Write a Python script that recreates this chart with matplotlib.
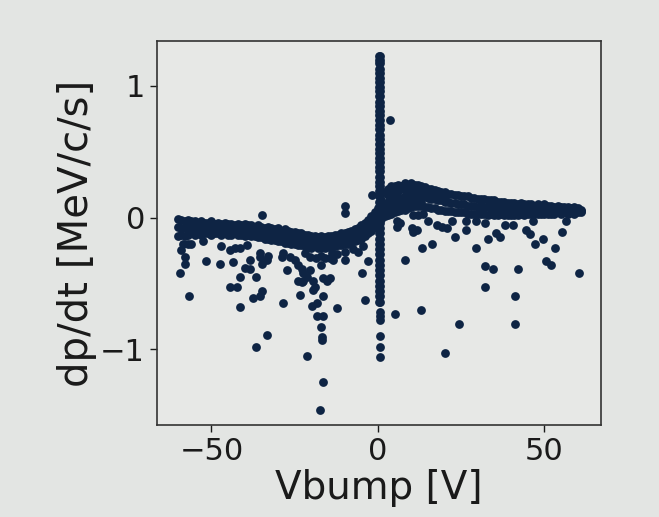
import matplotlib.pyplot as plt

# Main band: readings at each volt from -60 to 61 (upper edge, middle, lower edge)
band_v = list(range(-60, 62))
band_top = [-0.01, -0.02, -0.03, -0.02, -0.03, -0.03, -0.04, -0.03, -0.04, -0.04,
            -0.03, -0.05, -0.04, -0.05, -0.04, -0.05, -0.05, -0.06, -0.05, -0.06,
            -0.05, -0.06, -0.06, -0.07, -0.06, -0.07, -0.08, -0.07, -0.08, -0.09,
            -0.08, -0.10, -0.09, -0.10, -0.11, -0.11, -0.12, -0.12, -0.13, -0.13,
            -0.14, -0.14, -0.15, -0.14, -0.15, -0.14, -0.14, -0.13, -0.13, -0.12,
            -0.12, -0.11, -0.10, -0.09, -0.08, -0.06, -0.04, -0.02, 0.01, 0.04,
            0.07, 0.13, 0.19, 0.22, 0.24, 0.24, 0.25, 0.24, 0.26, 0.25,
            0.26, 0.25, 0.25, 0.24, 0.23, 0.22, 0.22, 0.21, 0.20, 0.19,
            0.19, 0.18, 0.18, 0.17, 0.17, 0.16, 0.16, 0.16, 0.15, 0.15,
            0.14, 0.14, 0.14, 0.13, 0.13, 0.13, 0.12, 0.12, 0.12, 0.11,
            0.11, 0.11, 0.10, 0.11, 0.10, 0.10, 0.10, 0.09, 0.10, 0.09,
            0.10, 0.09, 0.09, 0.08, 0.09, 0.08, 0.08, 0.08, 0.07, 0.08,
            0.07, 0.06]
band_mid = [-0.07, -0.08, -0.08, -0.07, -0.08, -0.08, -0.08, -0.08, -0.08, -0.09,
            -0.08, -0.08, -0.09, -0.09, -0.08, -0.09, -0.09, -0.09, -0.09, -0.10,
            -0.10, -0.09, -0.10, -0.11, -0.10, -0.11, -0.12, -0.12, -0.12, -0.13,
            -0.13, -0.14, -0.14, -0.15, -0.15, -0.16, -0.16, -0.17, -0.17, -0.18,
            -0.18, -0.18, -0.19, -0.19, -0.19, -0.18, -0.18, -0.18, -0.17, -0.17,
            -0.16, -0.15, -0.15, -0.14, -0.12, -0.11, -0.09, -0.07, -0.05, -0.02,
            0.01, 0.06, 0.10, 0.12, 0.13, 0.14, 0.15, 0.15, 0.16, 0.16,
            0.17, 0.17, 0.17, 0.16, 0.16, 0.15, 0.14, 0.14, 0.13, 0.13,
            0.12, 0.12, 0.11, 0.11, 0.10, 0.10, 0.10, 0.09, 0.09, 0.09,
            0.08, 0.09, 0.08, 0.08, 0.08, 0.07, 0.07, 0.07, 0.07, 0.06,
            0.07, 0.06, 0.06, 0.07, 0.06, 0.06, 0.06, 0.06, 0.06, 0.06,
            0.06, 0.06, 0.06, 0.05, 0.06, 0.05, 0.06, 0.05, 0.05, 0.05,
            0.05, 0.05]
band_bot = [-0.14, -0.13, -0.14, -0.13, -0.12, -0.13, -0.12, -0.13, -0.12, -0.12,
            -0.13, -0.12, -0.12, -0.13, -0.12, -0.13, -0.13, -0.12, -0.13, -0.13,
            -0.14, -0.13, -0.14, -0.14, -0.15, -0.15, -0.16, -0.16, -0.17, -0.17,
            -0.18, -0.18, -0.19, -0.19, -0.20, -0.20, -0.21, -0.21, -0.22, -0.22,
            -0.23, -0.22, -0.23, -0.23, -0.23, -0.22, -0.23, -0.22, -0.21, -0.21,
            -0.20, -0.20, -0.19, -0.18, -0.17, -0.16, -0.14, -0.12, -0.10, -0.07,
            -0.04, -0.01, 0.01, 0.02, 0.03, 0.04, 0.05, 0.06, 0.06, 0.07,
            0.08, 0.09, 0.09, 0.09, 0.08, 0.08, 0.07, 0.07, 0.06, 0.06,
            0.05, 0.05, 0.05, 0.04, 0.04, 0.04, 0.04, 0.03, 0.03, 0.03,
            0.03, 0.03, 0.03, 0.02, 0.03, 0.02, 0.02, 0.03, 0.02, 0.02,
            0.02, 0.02, 0.02, 0.03, 0.02, 0.03, 0.03, 0.03, 0.03, 0.03,
            0.03, 0.03, 0.03, 0.03, 0.04, 0.03, 0.04, 0.03, 0.04, 0.03,
            0.04, 0.04]

# Extra points filling the wide part of the band just right of the spike
fill_v = [2, 3, 4, 5, 6, 7, 8, 9, 10, 11, 12, 13, 14, 3, 4, 5, 6, 8, 10, 12, 16, 18, 20]
fill_dp = [0.05, 0.07, 0.08, 0.19, 0.20, 0.10, 0.21, 0.11, 0.21, 0.13, 0.21, 0.12, 0.20,
           0.17, 0.18, 0.09, 0.10, 0.11, 0.12, 0.13, 0.18, 0.17, 0.16]

# Vertical spike near Vbump = 0
spike_dp = [1.23, 1.20, 1.17, 1.13, 1.10, 1.06, 1.03, 0.99, 0.96, 0.92, 0.88, 0.85,
            0.81, 0.78, 0.74, 0.70, 0.67, 0.63, 0.60, 0.56, 0.52, 0.49, 0.45, 0.42,
            0.38, 0.35, 0.31, 0.27, 0.24, 0.20, 0.16, 0.12, 0.08, 0.04, 0.00, -0.04,
            -0.08, -0.12, -0.16, -0.20, -0.24, -0.28, -0.32, -0.36, -0.40, -0.44,
            -0.48, -0.52, -0.56, -0.60, -0.64]
tail_dp = [-0.72, -0.75, -0.78, -0.90, -0.98, -1.06]

# Scattered outliers
out_v = [-34.9, -9.8, -9.8, -1.9, -59.3, -56.6, -57.8, -57.8, -51.6, -47.4,
         -43.4, -41.4, -44.3, -42.3, -41.5, -38.4, -40.0, -38.4, -36.6, -34.9,
         -35.4, -37.4, -33.4, -36.6, -27.4, -28.4, -35.4, -34.9, -24.9, -23.9,
         -22.9, -22.4, -22.4, -21.4, -20.4, -19.4, -18.9, -19.4, -23.4, -21.4,
         -19.9, -18.4, -16.4, -18.4, -16.4, -17.2, -16.9, -16.9, -16.6, -17.4,
         -12.3, -3.9, -4.8, -2.9, -9.9, -14.4, -13.4, -17.2, -16.4, -15.4,
         -14.4, -23.9, -22.9, -58.4, -57.0, -56.0, -52.5, -59.0, -47.0, -44.4,
         -42.9, -41.4, -39.4, -35.4, -33.4, -32.9, -28.9, -28.4, -26.4, -22.0,
         -20.5, -18.5, -17.0, -16.0, -13.9, -12.4, -9.9, -5.9, -4.4, -7.5,
         5.6, 5.6, 6.6, 10.1, 11.6, 10.6, 10.6, 12.1, 13.6, 13.1,
         16.1, 8.1, 5.1, 12.9, 24.4, 20.1, 15.1, 17.6, 19.1, 20.6,
         22.1, 23.1, 26.6, 26.6, 29.6, 32.1, 34.6, 32.1, 33.1, 35.6,
         36.6, 32.1, 29.6, 38.1, 40.6, 42.1, 41.1, 41.1, 44.6, 45.6,
         46.6, 47.3, 49.6, 53.1, 50.4, 52.1, 55.4, 56.6, 60.4, 3.5]
out_dp = [0.02, 0.085, 0.035, 0.17, -0.42, -0.60, -0.30, -0.35, -0.33, -0.35,
          -0.34, -0.45, -0.53, -0.53, -0.68, -0.32, -0.38, -0.39, -0.45, -0.56,
          -0.60, -0.61, -0.89, -0.98, -0.40, -0.65, -0.30, -0.35, -0.32, -0.36,
          -0.39, -0.42, -0.48, -0.45, -0.40, -0.48, -0.53, -0.55, -0.59, -1.05,
          -0.67, -0.65, -0.60, -0.75, -0.75, -0.83, -0.91, -0.93, -1.25, -1.46,
          -0.69, -0.63, -0.42, -0.33, -0.32, -0.31, -0.32, -0.36, -0.46, -0.48,
          -0.46, -0.48, -0.49, -0.20, -0.20, -0.20, -0.18, -0.25, -0.22, -0.25,
          -0.23, -0.23, -0.21, -0.27, -0.32, -0.29, -0.30, -0.27, -0.30, -0.27,
          -0.30, -0.31, -0.29, -0.31, -0.27, -0.28, -0.26, -0.26, -0.22, -0.24,
          -0.03, -0.07, -0.045, -0.08, -0.095, -0.11, 0.02, 0.02, 0.03, -0.23,
          -0.20, -0.32, -0.73, -0.70, -0.81, -1.03, -0.03, -0.06, -0.07, -0.08,
          -0.03, -0.15, -0.095, -0.03, -0.23, -0.37, -0.39, -0.53, -0.16, -0.12,
          -0.15, -0.045, -0.03, -0.06, -0.06, -0.39, -0.60, -0.81, -0.095, -0.125,
          -0.03, -0.20, -0.16, -0.23, -0.33, -0.36, -0.11, -0.03, -0.42, 0.74]

dot = '#0e2444'
bg = '#e3e5e3'

fig = plt.figure(figsize=(6.59, 5.17), dpi=100, facecolor=bg)
ax = fig.add_axes([0.238, 0.177, 0.674, 0.744])
ax.set_facecolor('#e7e8e6')

kw = dict(s=40, color=dot, linewidths=0)
for row in (band_top, band_mid, band_bot):
    ax.scatter(band_v, row, **kw)
ax.scatter(fill_v, fill_dp, **kw)
ax.scatter([0.3] * len(spike_dp), spike_dp, **kw)
ax.scatter([0.7] * len(spike_dp), spike_dp, **kw)
ax.scatter([0.5] * len(tail_dp), tail_dp, **kw)
ax.scatter(out_v, out_dp, **kw)

ax.set_xlim(-66.4, 67)
ax.set_ylim(-1.58, 1.342)
ax.set_xticks([-50, 0, 50])
ax.set_yticks([-1, 0, 1])
ax.tick_params(labelsize=22, length=5, width=1, colors='#1a1a1a')
for sp in ax.spines.values():
    sp.set_color('#333333')
    sp.set_linewidth(1.2)

ax.set_xlabel('Vbump [V]', fontsize=28, color='#1a1a1a', labelpad=2)
ax.set_ylabel('dp/dt [MeV/c/s]', fontsize=29, color='#1a1a1a', labelpad=2)

fig.savefig('out.png', dpi=100, facecolor=bg)
